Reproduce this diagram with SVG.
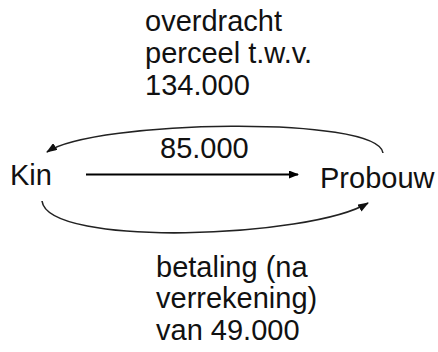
<svg xmlns="http://www.w3.org/2000/svg" width="438" height="352" viewBox="0 0 438 352">
<style>
text{font-family:"Liberation Sans",Arial,sans-serif;font-size:29px;fill:#111}
.arc{fill:none;stroke:#222;stroke-width:1.6}
.main{fill:none;stroke:#000;stroke-width:2}
</style>
<defs>
<marker id="ah" markerUnits="userSpaceOnUse" markerWidth="11" markerHeight="8" refX="10" refY="4" orient="auto">
<path d="M0,0 L11,4 L0,8 z" fill="#111"/>
</marker>
<marker id="ah2" markerUnits="userSpaceOnUse" markerWidth="10" markerHeight="8" refX="9" refY="4" orient="auto">
<path d="M0,0 L10,4 L0,8 z" fill="#000"/>
</marker>
</defs>
<rect width="438" height="352" fill="#fff"/>
<g id="connectors">
<path class="arc" d="M383,153 C378,115 95,120 47,152" marker-end="url(#ah)"/>
<path class="arc" d="M42,201 C48,248 310,238 368,203" marker-end="url(#ah)"/>
<path class="main" d="M86,174.5 L298,174.5" marker-end="url(#ah2)"/>
</g>
<g id="kin"><text x="10" y="185">Kin</text></g>
<g id="probouw"><text x="320" y="188">Probouw</text></g>
<g id="label-top"><text x="145" y="31">overdracht</text><text x="145" y="63">perceel t.w.v.</text><text x="145" y="95">134.000</text></g>
<g id="label-mid"><text x="160" y="158">85.000</text></g>
<g id="label-bottom"><text x="156" y="277">betaling (na</text><text x="156" y="308">verrekening)</text><text x="156" y="340">van 49.000</text></g>
</svg>
